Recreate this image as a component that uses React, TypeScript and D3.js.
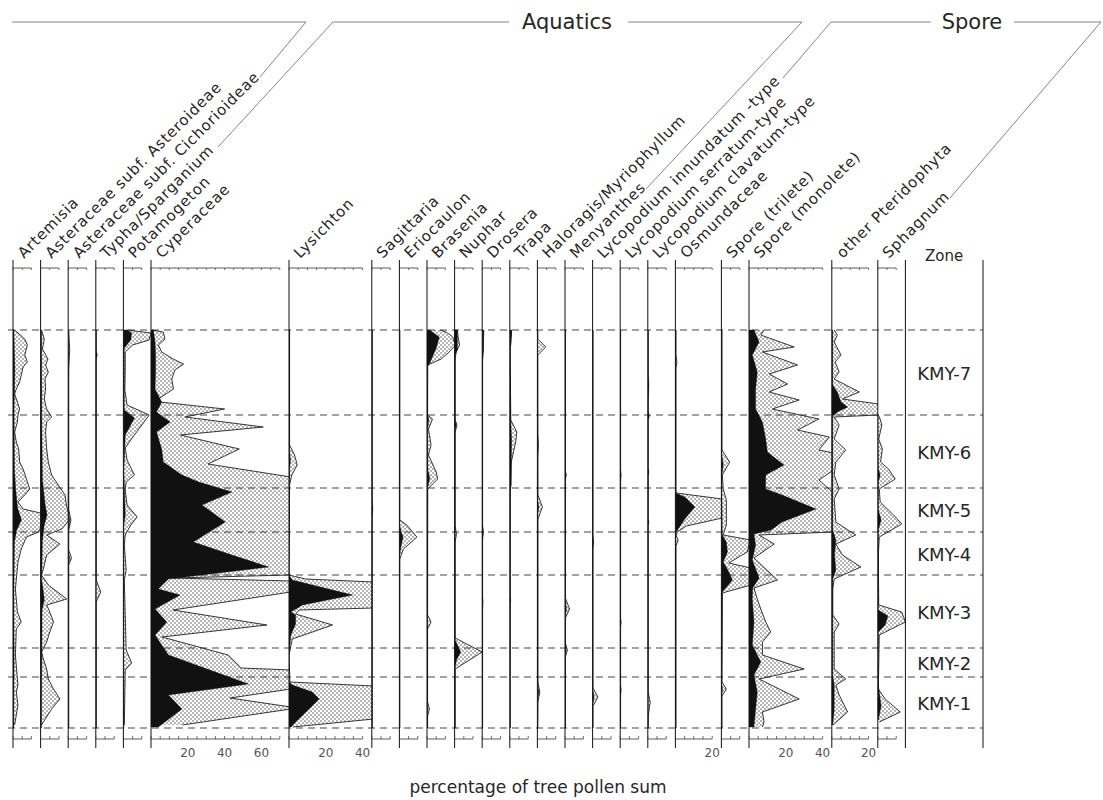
import React from "react";
import * as d3 from "d3";

type P = [number, number]; // [depth, percent]

// ---------- categories ----------
const taxa = [
  "Artemisia",
  "Asteraceae subf. Asteroideae",
  "Asteraceae subf. Cichorioideae",
  "Typha/Sparganium",
  "Potamogeton",
  "Cyperaceae",
  "Lysichton",
  "Sagittaria",
  "Eriocaulon",
  "Brasenia",
  "Nuphar",
  "Drosera",
  "Trapa",
  "Haloragis/Myriophyllum",
  "Menyanthes",
  "Lycopodium innundatum -type",
  "Lycopodium serratum-type",
  "Lycopodium clavatum-type",
  "Osmundaceae",
  "Spore (trilete)",
  "Spore (monolete)",
  "other Pteridophyta",
  "Sphagnum",
];
const scaleMaxPct = [15, 15, 15, 15, 15, 75, 45, 15, 15, 15, 15, 15, 15, 15, 15, 15, 15, 15, 25, 15, 45, 25, 15];
const axisMaxPct = [10, 10, 10, 10, 10, 70, 40, 10, 10, 10, 10, 10, 10, 10, 10, 10, 10, 10, 20, 10, 40, 20, 10];
const tickLabels: number[][] = [
  [], [], [], [], [], [20, 40, 60], [20, 40], [], [], [], [], [], [], [], [], [], [], [], [20], [], [20, 40], [20], [],
];
const zoneNames = ["KMY-7", "KMY-6", "KMY-5", "KMY-4", "KMY-3", "KMY-2", "KMY-1"];
const zoneBounds = [0, 85, 158, 202, 245, 318, 347, 398];
const groupTitles = ["Aquatics", "Spore"];
const depthDomain = [0, 398];

// ---------- series (black = value, exag = exaggerated curve) ----------
const artemisiaBlack: P[] = [[0,0.5],[40,1],[80,0.6],[140,0.8],[160,1.5],[178,2.5],[190,4.6],[200,2],[212,0.8],[260,0.5],[330,0.6],[398,0.4]];
const artemisiaExag: P[] = [[0,0.9],[9,6.4],[15,7.8],[25,6.4],[32,7.8],[37,5.5],[45,4.5],[52,3.6],[59,1.8],[64,0.9],[72,2.4],[79,3.6],[85,2.7],[92,2.4],[102,0.9],[112,1.8],[119,3.1],[132,3.6],[139,5.5],[149,7.3],[159,9.1],[165,6.4],[172,2.7],[179,5.5],[183,15],[192,16],[202,14],[207,7.3],[219,4.5],[232,2.7],[259,1.3],[282,2.4],[292,4.5],[299,1.8],[325,1.3],[349,2.4],[355,2.7],[362,1.8],[375,2.7],[395,0.9]];

const asteroideaeBlack: P[] = [[0,0.5],[100,0.7],[150,1],[175,2.5],[185,3.5],[195,2],[210,1],[250,0.6],[262,1.5],[270,2],[280,0.8],[398,0.5]];
const asteroideaeExag: P[] = [[0,0.5],[9,2],[19,1],[29,4],[35,2.7],[42,4.2],[49,2.4],[59,2.7],[69,2],[79,3.3],[87,6],[92,3.3],[102,2.7],[119,3.3],[132,4.2],[145,6],[155,9.6],[165,13.3],[175,14],[189,16],[199,11.5],[205,3.3],[214,10.5],[225,3.3],[239,1.5],[245,0.5],[255,4.2],[269,14.2],[275,3.3],[282,5],[292,7],[302,5],[312,3.3],[322,0.5],[329,1.5],[339,3.3],[349,4.2],[359,7],[369,10.5],[379,6],[395,0.5]];

const cichorioideaeBlack: P[] = [[0,0.2],[180,0.2],[190,0.8],[200,0.2],[222,0.2],[228,0.8],[234,0.2],[398,0.2]];
const cichorioideaeExag: P[] = [[0,0.3],[20,0.8],[40,0.3],[180,0.3],[190,1.5],[200,0.3],[220,0.3],[228,1.8],[235,0.3],[398,0.3]];

const typhaBlack: P[] = [[0,0.2],[20,0.2],[25,0.8],[30,0.2],[398,0.2]];
const typhaExag: P[] = [[0,0.2],[250,0.2],[262,2.7],[272,0.2],[398,0.2]];

const potamogetonBlack: P[] = [[0,2],[3,4.5],[10,4],[18,0.5],[80,0.5],[88,6],[95,4],[105,1],[140,0.3],[185,1],[195,0.3],[398,0.3]];
const potamogetonExag: P[] = [[0,2],[3,15],[10,14],[15,5],[22,1],[40,1],[60,0.8],[75,2],[85,14],[90,12],[100,8],[110,4],[118,1],[130,2],[145,6],[152,1.5],[160,1],[175,2],[187,7.5],[195,4],[205,1],[215,0.5],[240,1.5],[250,0.5],[320,1.5],[333,4.5],[340,1],[395,0.5]];

const cyperaceaeBlack: P[] = [[0,1.3],[12,2.2],[25,2.5],[42,2.5],[59,2.2],[72,5.8],[82,3],[92,10.4],[102,3],[119,5.8],[132,6.7],[145,16.8],[152,26],[162,44],[175,27.7],[192,40.4],[212,23],[225,44],[237,64],[249,9.5],[259,4],[265,15.8],[279,2.2],[292,8.6],[305,2.2],[325,9.5],[342,35],[354,53],[365,9.5],[379,16.8],[392,7.6],[397,4]];
const cyperaceaeExag: P[] = [[0,0.4],[2,6.7],[9,7.6],[15,4],[22,5.8],[29,12],[34,17.7],[40,13],[49,11.3],[59,12.2],[69,4],[72,5],[79,40],[87,18.5],[97,61],[105,16],[119,48],[134,31],[147,76],[245,76],[248,12],[251,76],[262,76],[280,12],[295,63],[307,6],[325,42],[338,49],[340,76],[359,76],[368,43],[377,76],[379,76],[395,17]];

const lysichtonBlack: P[] = [[0,0.3],[120,0.3],[130,0.8],[140,0.3],[245,0],[250,1.8],[255,12.7],[265,34.6],[275,7.3],[282,1],[285,3.6],[294,3.6],[305,1],[325,0],[352,0],[355,1.8],[362,12.7],[369,16.4],[379,10.9],[392,3.6],[397,1]];
const lysichtonExag: P[] = [[0,0.3],[115,0.3],[125,3],[135,4.5],[145,1.5],[155,0.3],[245,0],[249,9],[252,46],[278,46],[280,5.5],[284,3.6],[295,23.7],[309,1.8],[325,0],[352,0.5],[356,46],[389,46],[397,2]];

const sagittariaBlack: P[] = [[0,0.2],[170,0.2],[179,0.6],[188,0.2],[398,0.2]];
const sagittariaExag: P[] = [[0,0.2],[398,0.2]];

const eriocaulonBlack: P[] = [[0,0.2],[195,0.2],[202,1],[207,2],[215,1],[225,0.2],[398,0.2]];
const eriocaulonExag: P[] = [[0,0.2],[190,0.2],[195,4],[207,9.5],[219,2.2],[229,0.2],[398,0.2]];

const braseniaBlack: P[] = [[0,1.3],[7,6.7],[18,5],[34,1.3],[36,0.3],[85,0.3],[89,1],[100,0.3],[140,0.5],[148,1.5],[158,0.3],[398,0.3]];
const braseniaExag: P[] = [[0,7],[2,10.4],[7,14],[15,15.5],[22,12],[29,7.7],[35,0.4],[85,0.3],[89,3],[99,0.8],[115,2.2],[125,0.8],[142,5],[149,5.8],[159,0.4],[285,0.3],[292,2.2],[299,0.3],[372,0.3],[379,1.3],[386,0.3],[398,0.3]];

const nupharBlack: P[] = [[0,1.5],[20,1.5],[25,0.3],[90,0.3],[95,0.8],[100,0.3],[310,0.3],[322,3.3],[330,1],[338,0.3],[398,0.3]];
const nupharExag: P[] = [[0,1.5],[8,2],[15,2.7],[22,0.8],[30,0.3],[90,0.3],[95,1.3],[102,0.3],[196,0.3],[204,1],[212,0.3],[308,0.3],[322,15],[339,0.3],[398,0.3]];

const droseraBlack: P[] = [[0,0.8],[20,0.6],[30,0.2],[195,0.2],[202,0.8],[210,0.2],[265,0.2],[272,0.5],[280,0.2],[398,0.2]];
const droseraExag: P[] = [[0,0.8],[20,0.6],[30,0.2],[398,0.2]];

const trapaBlack: P[] = [[0,1],[12,0.6],[20,0.2],[90,0.5],[110,1],[130,0.8],[155,0.8],[162,0.2],[265,0.2],[270,0.5],[276,0.2],[398,0.2]];
const trapaExag: P[] = [[0,1],[12,0.6],[20,0.2],[90,0.5],[102,3.8],[112,3.2],[122,2],[132,0.8],[160,0.3],[398,0.2]];

const haloragisBlack: P[] = [[0,0.2],[100,0.2],[115,0.6],[130,0.2],[170,0.2],[177,0.8],[185,0.2],[355,0.2],[362,0.8],[370,0.2],[398,0.2]];
const haloragisExag: P[] = [[0,0.2],[9,0.2],[17,4.5],[25,0.2],[165,0.3],[177,2.7],[189,0.3],[352,0.3],[362,1.3],[372,0.3],[398,0.2]];

const menyanthesBlack: P[] = [[0,0.2],[140,0.2],[145,0.8],[150,0.2],[270,0.2],[279,0.8],[286,0.2],[315,0.2],[320,0.6],[325,0.2],[398,0.2]];
const menyanthesExag: P[] = [[0,0.2],[268,0.2],[279,2.5],[288,0.2],[313,0.2],[320,1.3],[327,0.2],[398,0.2]];

const lycInnBlack: P[] = [[0,0.2],[205,0.2],[212,0.6],[219,0.2],[360,0.2],[367,0.8],[374,0.2],[398,0.2]];
const lycInnExag: P[] = [[0,0.2],[358,0.2],[367,2.9],[376,0.2],[398,0.2]];

const lycSerBlack: P[] = [[0,0.2],[139,0.2],[145,0.6],[152,0.2],[288,0.2],[292,0.6],[297,0.2],[355,0.2],[360,0.6],[366,0.2],[398,0.2]];
const lycSerExag: P[] = [[0,0.2],[398,0.2]];

const lycClaBlack: P[] = [[0,0.2],[42,0.2],[55,0.6],[75,0.2],[82,0.2],[86,0.9],[90,0.2],[138,0.2],[142,0.6],[146,0.2],[188,0.2],[192,0.6],[196,0.2],[398,0.2]];
const lycClaExag: P[] = [[0,0.2],[362,0.2],[372,1.3],[385,0.3],[398,0.2]];

const osmundaceaeBlack: P[] = [[0,0.3],[160,0.3],[163,0],[167,5.1],[177,10.6],[189,5.1],[199,1.5],[203,0.3],[398,0.3]];
const osmundaceaeExag: P[] = [[0,0.3],[25,0.3],[32,0.8],[38,0.3],[160,0.3],[163,0.5],[169,25.5],[188,25.5],[196,6],[202,1],[206,0.5],[210,1.5],[216,0.3],[398,0.3]];

const triletBlack: P[] = [[0,0.3],[125,0.3],[135,1],[145,0.3],[159,0.3],[205,0.5],[212,2.7],[222,3.3],[232,1],[240,3.5],[250,6],[262,0.5],[355,0.3],[359,0.6],[365,0.3],[398,0.3]];
const triletExag: P[] = [[0,0.3],[120,0.3],[132,4.5],[145,0.5],[159,1],[170,2.7],[195,2.7],[205,1],[210,16],[222,14],[233,4],[238,16],[255,16],[263,0.5],[352,0.3],[359,2.7],[366,0.3],[398,0.3]];

const monoletBlack: P[] = [[0,2.7],[12,5.5],[25,1.8],[42,4.5],[59,3.6],[79,3.6],[92,7.3],[109,9.1],[122,10],[135,19],[145,9.1],[159,9],[165,18],[179,36.4],[192,18],[200,12],[204,2.7],[215,3.6],[230,1.8],[248,5.5],[258,2],[269,1.8],[292,2.7],[315,1.8],[332,6.4],[345,2.7],[362,4.5],[379,3.6],[397,2.7]];
const monoletExag: P[] = [[0,8.2],[5,6.4],[17,24.6],[22,7.3],[35,26.4],[44,11],[54,21],[62,11],[70,27.3],[79,12.7],[89,38],[100,26.4],[107,43.7],[120,38],[123,46],[140,46],[150,38],[163,46],[202,46],[205,5.5],[214,13.7],[228,2.7],[250,15.5],[258,2.7],[269,4.5],[279,6.4],[292,9.1],[302,11.8],[312,7.3],[325,7.3],[339,30],[349,5.5],[369,27.3],[382,7.3],[392,8.2],[397,7.3]];

const otherPterBlack: P[] = [[0,0.5],[55,0.5],[62,3],[72,5],[77,8.6],[82,3],[86,0.5],[200,0.5],[210,2.2],[225,1.5],[240,2.2],[249,0.5],[345,0.5],[355,1.3],[370,1.3],[380,1.3],[395,0.5]];
const otherPterExag: P[] = [[0,1.3],[5,3],[12,1.3],[25,5],[32,1.8],[42,4],[49,1.3],[62,15],[69,5.8],[74,25.5],[85,25.5],[87,1.3],[95,4],[109,1.3],[120,7.6],[132,2.2],[145,1.3],[159,4],[169,1.3],[192,2.2],[205,13],[214,2.2],[225,5.8],[237,15.8],[249,1.3],[259,0.5],[285,0.5],[294,4],[302,1.3],[339,1.3],[349,7.6],[355,2.2],[365,4],[382,8.6],[395,0.7]];

const sphagnumBlack: P[] = [[85,0],[139,0.3],[145,1.3],[152,0.3],[180,0.3],[190,1.8],[200,0.3],[280,0.3],[286,5.5],[295,4],[302,0.3],[355,0.3],[376,1.8],[390,0.3]];
const sphagnumExag: P[] = [[85,0.3],[89,1.3],[95,2.2],[109,0.5],[119,2.5],[132,1.5],[139,5.8],[149,9.5],[159,0.8],[172,1.3],[185,8.6],[194,13],[207,0.8],[225,0.3],[275,0.5],[282,13],[292,15],[305,0.8],[359,0.3],[369,4],[382,12.2],[392,0.8]];

const blackSeries: P[][] = [
  artemisiaBlack, asteroideaeBlack, cichorioideaeBlack, typhaBlack, potamogetonBlack,
  cyperaceaeBlack, lysichtonBlack, sagittariaBlack, eriocaulonBlack, braseniaBlack,
  nupharBlack, droseraBlack, trapaBlack, haloragisBlack, menyanthesBlack,
  lycInnBlack, lycSerBlack, lycClaBlack, osmundaceaeBlack, triletBlack,
  monoletBlack, otherPterBlack, sphagnumBlack,
];
const exagSeries: P[][] = [
  artemisiaExag, asteroideaeExag, cichorioideaeExag, typhaExag, potamogetonExag,
  cyperaceaeExag, lysichtonExag, sagittariaExag, eriocaulonExag, braseniaExag,
  nupharExag, droseraExag, trapaExag, haloragisExag, menyanthesExag,
  lycInnExag, lycSerExag, lycClaExag, osmundaceaeExag, triletExag,
  monoletExag, otherPterExag, sphagnumExag,
];

export default function App() {
  const FONT = "'DejaVu Sans', 'Open Sans', sans-serif";
  const K = 1.84; // px per percent
  const startX = 13;
  const lefts: number[] = [];
  let acc = startX;
  scaleMaxPct.forEach((w) => {
    lefts.push(acc);
    acc += w * K;
  });
  const zoneLeft = acc;
  const zoneRight = 983;
  const colTop = 260;
  const colBottom = 748;
  const topAxisY = 268;
  const bottomAxisY = 739;

  const y = d3.scaleLinear().domain(depthDomain).range([330, 728]);
  const xs = taxa.map((_, i) =>
    d3.scaleLinear().domain([0, scaleMaxPct[i]]).range([lefts[i], lefts[i] + scaleMaxPct[i] * K])
  );

  const areaFor = (i: number, data: P[]) =>
    d3
      .area<P>()
      .y((p) => y(p[0]))
      .x0(xs[i](0))
      .x1((p) => xs[i](p[1]))(data) || "";
  const lineFor = (i: number, data: P[]) =>
    d3
      .line<P>()
      .x((p) => xs[i](p[1]))
      .y((p) => y(p[0]))(data) || "";

  const labelColor = "#262626";
  const lineGray = "#777";

  return (
    <svg
      width={1103}
      height={800}
      style={{ position: "absolute", left: 0, top: 0, background: "#fff" }}
      fontFamily={FONT}
    >
      <defs>
        <pattern id="dots" width="4" height="4" patternUnits="userSpaceOnUse">
          <circle cx="1" cy="1" r="0.7" fill="#333" />
          <circle cx="3" cy="3" r="0.7" fill="#333" />
        </pattern>
        {taxa.map((_, i) => (
          <clipPath id={`clip${i}`} key={i}>
            <rect x={lefts[i]} y={300} width={scaleMaxPct[i] * K} height={460} />
          </clipPath>
        ))}
      </defs>
      <rect x={0} y={0} width={1103} height={800} fill="#fff" />

      {/* header group lines */}
      <g stroke={lineGray} strokeWidth={0.9} fill="none">
        <polyline points="12,22 306,22 260,77" />
        <polyline points="218,147 333,22 509,22" />
        <polyline points="628,22 802,22 646,189" />
        <polyline points="783,78 831,22 931,22" />
        <polyline points="1014,22 1101,22 950,198" />
      </g>
      <text x={567} y={22} fontSize={21} textAnchor="middle" dominantBaseline="central" fill={labelColor}>
        {groupTitles[0]}
      </text>
      <text x={972} y={22} fontSize={21} textAnchor="middle" dominantBaseline="central" fill={labelColor}>
        {groupTitles[1]}
      </text>

      {/* taxon labels */}
      {taxa.map((t, i) => (
        <text
          key={t}
          transform={`translate(${lefts[i] + 11},259) rotate(-45)`}
          fontSize={15}
          letterSpacing={0.8}
          fill={labelColor}
        >
          {t}
        </text>
      ))}
      <text x={(zoneLeft + zoneRight) / 2} y={261} fontSize={15} textAnchor="middle" fill={labelColor}>
        Zone
      </text>

      {/* zone dashed lines (under areas) */}
      <g stroke="#444" strokeWidth={1} strokeDasharray="7 5">
        {zoneBounds.map((b, i) => (
          <line key={i} x1={8} x2={zoneRight} y1={y(b)} y2={y(b)} />
        ))}
      </g>

      {/* curves */}
      {taxa.map((t, i) => (
        <g key={t} clipPath={`url(#clip${i})`}>
          <path d={areaFor(i, exagSeries[i])} fill="url(#dots)" />
          <path d={lineFor(i, exagSeries[i])} fill="none" stroke="#222" strokeWidth={0.9} />
          <path d={areaFor(i, blackSeries[i])} fill="#111" stroke="#111" strokeWidth={0.4} />
        </g>
      ))}

      {/* column lines & axes */}
      {taxa.map((t, i) => {
        const ticks = d3.range(0, axisMaxPct[i] + 0.01, 5);
        return (
          <g key={t}>
            <line x1={lefts[i]} x2={lefts[i]} y1={colTop} y2={colBottom} stroke="#111" strokeWidth={1} />
            <line x1={xs[i](0)} x2={xs[i](axisMaxPct[i])} y1={topAxisY} y2={topAxisY} stroke="#333" strokeWidth={0.8} />
            <line x1={xs[i](0)} x2={xs[i](axisMaxPct[i])} y1={bottomAxisY} y2={bottomAxisY} stroke="#333" strokeWidth={0.8} />
            {ticks.map((v) => (
              <g key={v}>
                <line x1={xs[i](v)} x2={xs[i](v)} y1={topAxisY} y2={topAxisY + 2} stroke="#333" strokeWidth={0.7} />
                <line x1={xs[i](v)} x2={xs[i](v)} y1={bottomAxisY} y2={bottomAxisY - 3} stroke="#333" strokeWidth={0.7} />
              </g>
            ))}
            {tickLabels[i].map((v) => (
              <text key={v} x={xs[i](v)} y={757} fontSize={12} textAnchor="middle" fill="#555">
                {v}
              </text>
            ))}
          </g>
        );
      })}

      {/* zone column */}
      <line x1={zoneLeft} x2={zoneLeft} y1={colTop} y2={colBottom} stroke="#111" strokeWidth={1} />
      <line x1={zoneRight} x2={zoneRight} y1={colTop} y2={colBottom} stroke="#111" strokeWidth={1} />
      {zoneNames.map((z, i) => (
        <text
          key={z}
          x={(zoneLeft + zoneRight) / 2}
          y={(y(zoneBounds[i]) + y(zoneBounds[i + 1])) / 2 + 7}
          fontSize={18}
          textAnchor="middle"
          fill={labelColor}
        >
          {z}
        </text>
      ))}

      <text x={538} y={793} fontSize={17} textAnchor="middle" fill={labelColor}>
        percentage of tree pollen sum
      </text>
    </svg>
  );
}
